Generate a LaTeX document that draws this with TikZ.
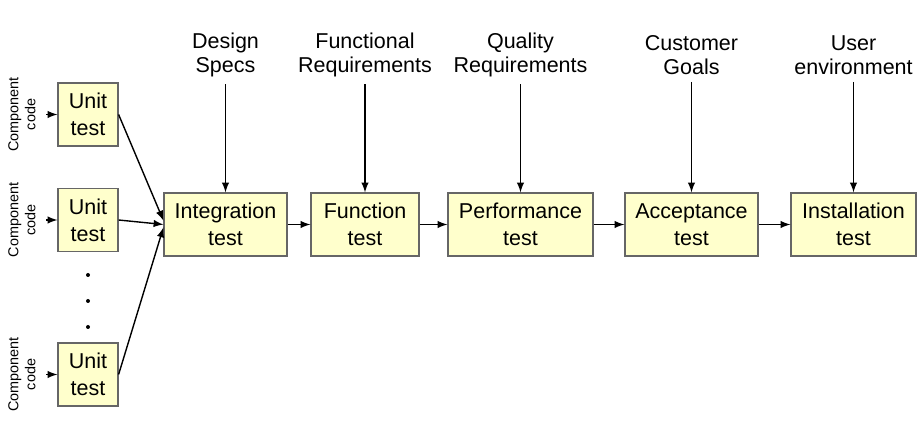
\documentclass[tikz,border=0pt]{standalone}
\usepackage{fontspec}
\setmainfont{Liberation Sans}
\definecolor{boxfill}{HTML}{FFFFCC}
\definecolor{boxline}{HTML}{666666}
\tikzset{
  stage/.style={draw=boxline, fill=boxfill, line width=0.6pt, align=center,
    minimum height=31.5pt, inner sep=0pt, font=\fontsize{10.75}{13.5}\selectfont},
  source/.style={align=center, font=\fontsize{10.75}{12}\selectfont},
  codelabel/.style={align=center, rotate=90, inner sep=0pt,
    font=\fontsize{7.2}{8.5}\selectfont}
}
\begin{document}
\begin{tikzpicture}
    [x=0.5pt, y=-0.5pt, >=latex, line width=0.7pt]

    \useasboundingbox (0, 0) rectangle (921, 431);

    \node [stage, minimum width=30pt] at (88, 114.5) (unit1) {Unit\\test};
    \node [stage, minimum width=30pt] at (88, 220)   (unit2) {Unit\\test};
    \node [stage, minimum width=30pt] at (88, 374.5) (unit3) {Unit\\test};

    \node [codelabel] at (22, 114.5) (cc1) {Component\\code};
    \node [codelabel] at (22, 220)   (cc2) {Component\\code};
    \node [codelabel] at (22, 374.5) (cc3) {Component\\code};

    \foreach \y in {275, 301, 327}
      \fill (88, \y) circle (1pt);

    \node [stage, minimum width=61.5pt] at (225.5, 224.5) (integ) {Integration\\test};
    \node [stage, minimum width=54pt]   at (365, 224.5)   (func)  {Function\\test};
    \node [stage, minimum width=72.5pt] at (520.5, 224.5) (perf)  {Performance\\test};
    \node [stage, minimum width=66.5pt] at (691.5, 224.5) (accp)  {Acceptance\\test};
    \node [stage, minimum width=62.5pt] at (853.5, 224.5) (inst)  {Installation\\test};

    \node [source] at (225.5, 55) (s1) {Design\\Specs};
    \node [source] at (365, 55)   (s2) {Functional\\Requirements};
    \node [source] at (520.5, 55) (s3) {Quality\\Requirements};
    \node [source] at (691.5, 55) (s4) {Customer\\Goals};
    \node [source] at (853.5, 55) (s5) {User\\environment};

    \draw [->, shorten <=5pt] (cc1.south) -- (unit1);
    \draw [->, shorten <=5pt] (cc2.south) -- (unit2);
    \draw [->, shorten <=5pt] (cc3.south) -- (unit3);

    \draw [->] (unit1.east) -- ([yshift=2pt]integ.west);
    \draw [->] (unit2.east) -- (integ.west);
    \draw [->] (unit3.east) -- ([yshift=-1.5pt]integ.west);

    \draw [->] (integ) -- (func);
    \draw [->] (func) -- (perf);
    \draw [->] (perf) -- (accp);
    \draw [->] (accp) -- (inst);

    \draw [->] (s1) -- (integ);
    \draw [->] (s2) -- (func);
    \draw [->] (s3) -- (perf);
    \draw [->] (s4) -- (accp);
    \draw [->] (s5) -- (inst);

  \end{tikzpicture}
\end{document}
